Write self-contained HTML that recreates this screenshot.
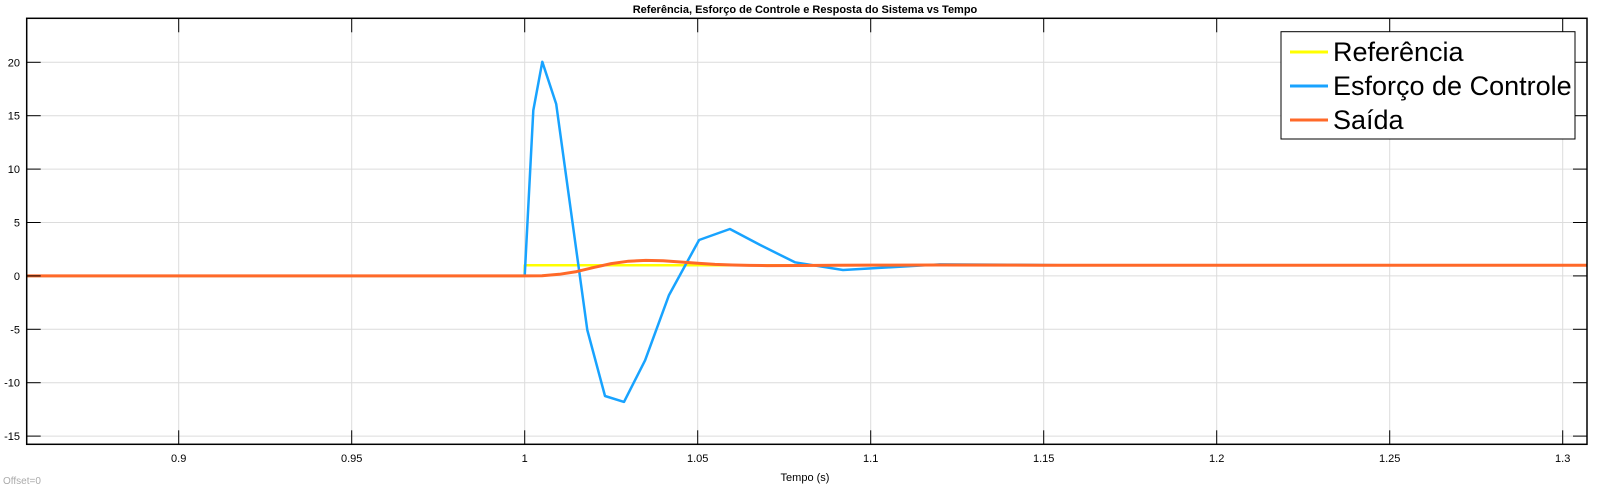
<!DOCTYPE html>
<html><head><meta charset="utf-8"><style>
body{margin:0;background:#fff;width:1600px;height:488px;overflow:hidden}
svg{display:block;font-family:"Liberation Sans",sans-serif}
</style></head><body>
<svg id="c" width="1600" height="488">
<text x="805" y="13" font-size="11" font-weight="bold" text-anchor="middle">Referência, Esforço de Controle e Resposta do Sistema vs Tempo</text>
<g id="grid"></g>
<g id="series"></g>
<rect x="26.7" y="18.3" width="1560.3" height="426" fill="none" stroke="#000" stroke-width="1.5"/>
<g id="ticks"></g>
<text x="805" y="481" font-size="11" text-anchor="middle">Tempo (s)</text>
<text x="3" y="484" font-size="10" fill="#aaa">Offset=0</text>
<g>
<rect x="1281" y="31.7" width="294" height="107.3" fill="#fff" stroke="#000" stroke-width="1"/>
<line x1="1290" y1="52" x2="1328" y2="52" stroke="#ffff00" stroke-width="3"/>
<text x="1333" y="61" font-size="27">Referência</text>
<line x1="1290" y1="86" x2="1328" y2="86" stroke="#18a3ff" stroke-width="3"/>
<text x="1333" y="95" font-size="27">Esforço de Controle</text>
<line x1="1290" y1="120" x2="1328" y2="120" stroke="#ff6929" stroke-width="3"/>
<text x="1333" y="129" font-size="27">Saída</text>
</g>
</svg>
<script>
const xTicks=[0.9,0.95,1,1.05,1.1,1.15,1.2,1.25,1.3];
const xTickLabels=["0.9","0.95","1","1.05","1.1","1.15","1.2","1.25","1.3"];
const yTicks=[-15,-10,-5,0,5,10,15,20];
const yTickLabels=["-15","-10","-5","0","5","10","15","20"];
const refT=[0.856,1.0,1.0,1.307];
const refV=[0,0,1,1];
const ctrlT=[0.856,1.0,1.0025,1.0051,1.0091,1.0181,1.0232,1.0287,1.0348,1.0417,1.0504,1.0593,1.068,1.0781,1.092,1.105,1.12,1.14,1.155,1.307];
const ctrlV=[0,0,15.5,20.05,16.1,-5.07,-11.25,-11.8,-7.9,-1.8,3.36,4.39,2.9,1.27,0.55,0.8,1.08,1.05,1.0,1.0];
const outT=[0.856,1.0,1.005,1.01,1.015,1.02,1.025,1.03,1.035,1.04,1.045,1.05,1.055,1.06,1.065,1.07,1.08,1.09,1.1,1.12,1.15,1.307];
const outV=[0,0,0.02,0.15,0.4,0.8,1.15,1.38,1.45,1.42,1.3,1.18,1.08,1.02,0.98,0.96,0.97,1.0,1.01,1.02,1.0,1.0];
const L=26.7,R=1587,T=18.3,B=444.3;
const xs=t=>178.7+(t-0.9)*3460;
const ys=v=>275.9-v*10.68;
const NS="http://www.w3.org/2000/svg";
function mk(tag,attrs,parent){const e=document.createElementNS(NS,tag);for(const k in attrs)e.setAttribute(k,attrs[k]);document.getElementById(parent).appendChild(e);return e;}
xTicks.forEach((t,i)=>{const x=xs(t);
 const g=mk('line',{x1:x,x2:x,y1:T,y2:B,stroke:'#dcdcdc','stroke-width':1},'grid');
 
 
 mk('line',{x1:x,x2:x,y1:B,y2:B-14,stroke:'#000','stroke-width':1},'ticks');
 mk('line',{x1:x,x2:x,y1:T,y2:T+14,stroke:'#000','stroke-width':1},'ticks');
 const tx=mk('text',{x:x,y:462,'font-size':11,'text-anchor':'middle'},'ticks');tx.textContent=xTickLabels[i];
 
 
});
yTicks.forEach((v,i)=>{const y=ys(v);
 const g=mk('line',{x1:L,x2:R,y1:y,y2:y,stroke:'#dcdcdc','stroke-width':1},'grid');
 
 
 mk('line',{x1:L,x2:L+14,y1:y,y2:y,stroke:'#000','stroke-width':1},'ticks');
 mk('line',{x1:R,x2:R-14,y1:y,y2:y,stroke:'#000','stroke-width':1},'ticks');
 const tx=mk('text',{x:20,y:y+4,'font-size':11,'text-anchor':'end'},'ticks');tx.textContent=yTickLabels[i];
 
 
});
function line(T_,V_,color,w,name){
 const p=T_.map((t,i)=>xs(t).toFixed(1)+','+ys(V_[i]).toFixed(1)).join(' ');
 const e=mk('polyline',{points:p,fill:'none',stroke:color,'stroke-width':w,'stroke-linejoin':'round'},'series');
 
 
}
line(refT,refV,'#ffff00',2.5,'series-referencia');
line(ctrlT,ctrlV,'#18a3ff',2.5,'series-esforco-controle');
line(outT,outV,'#ff6929',3,'series-saida');
</script>
</body></html>
